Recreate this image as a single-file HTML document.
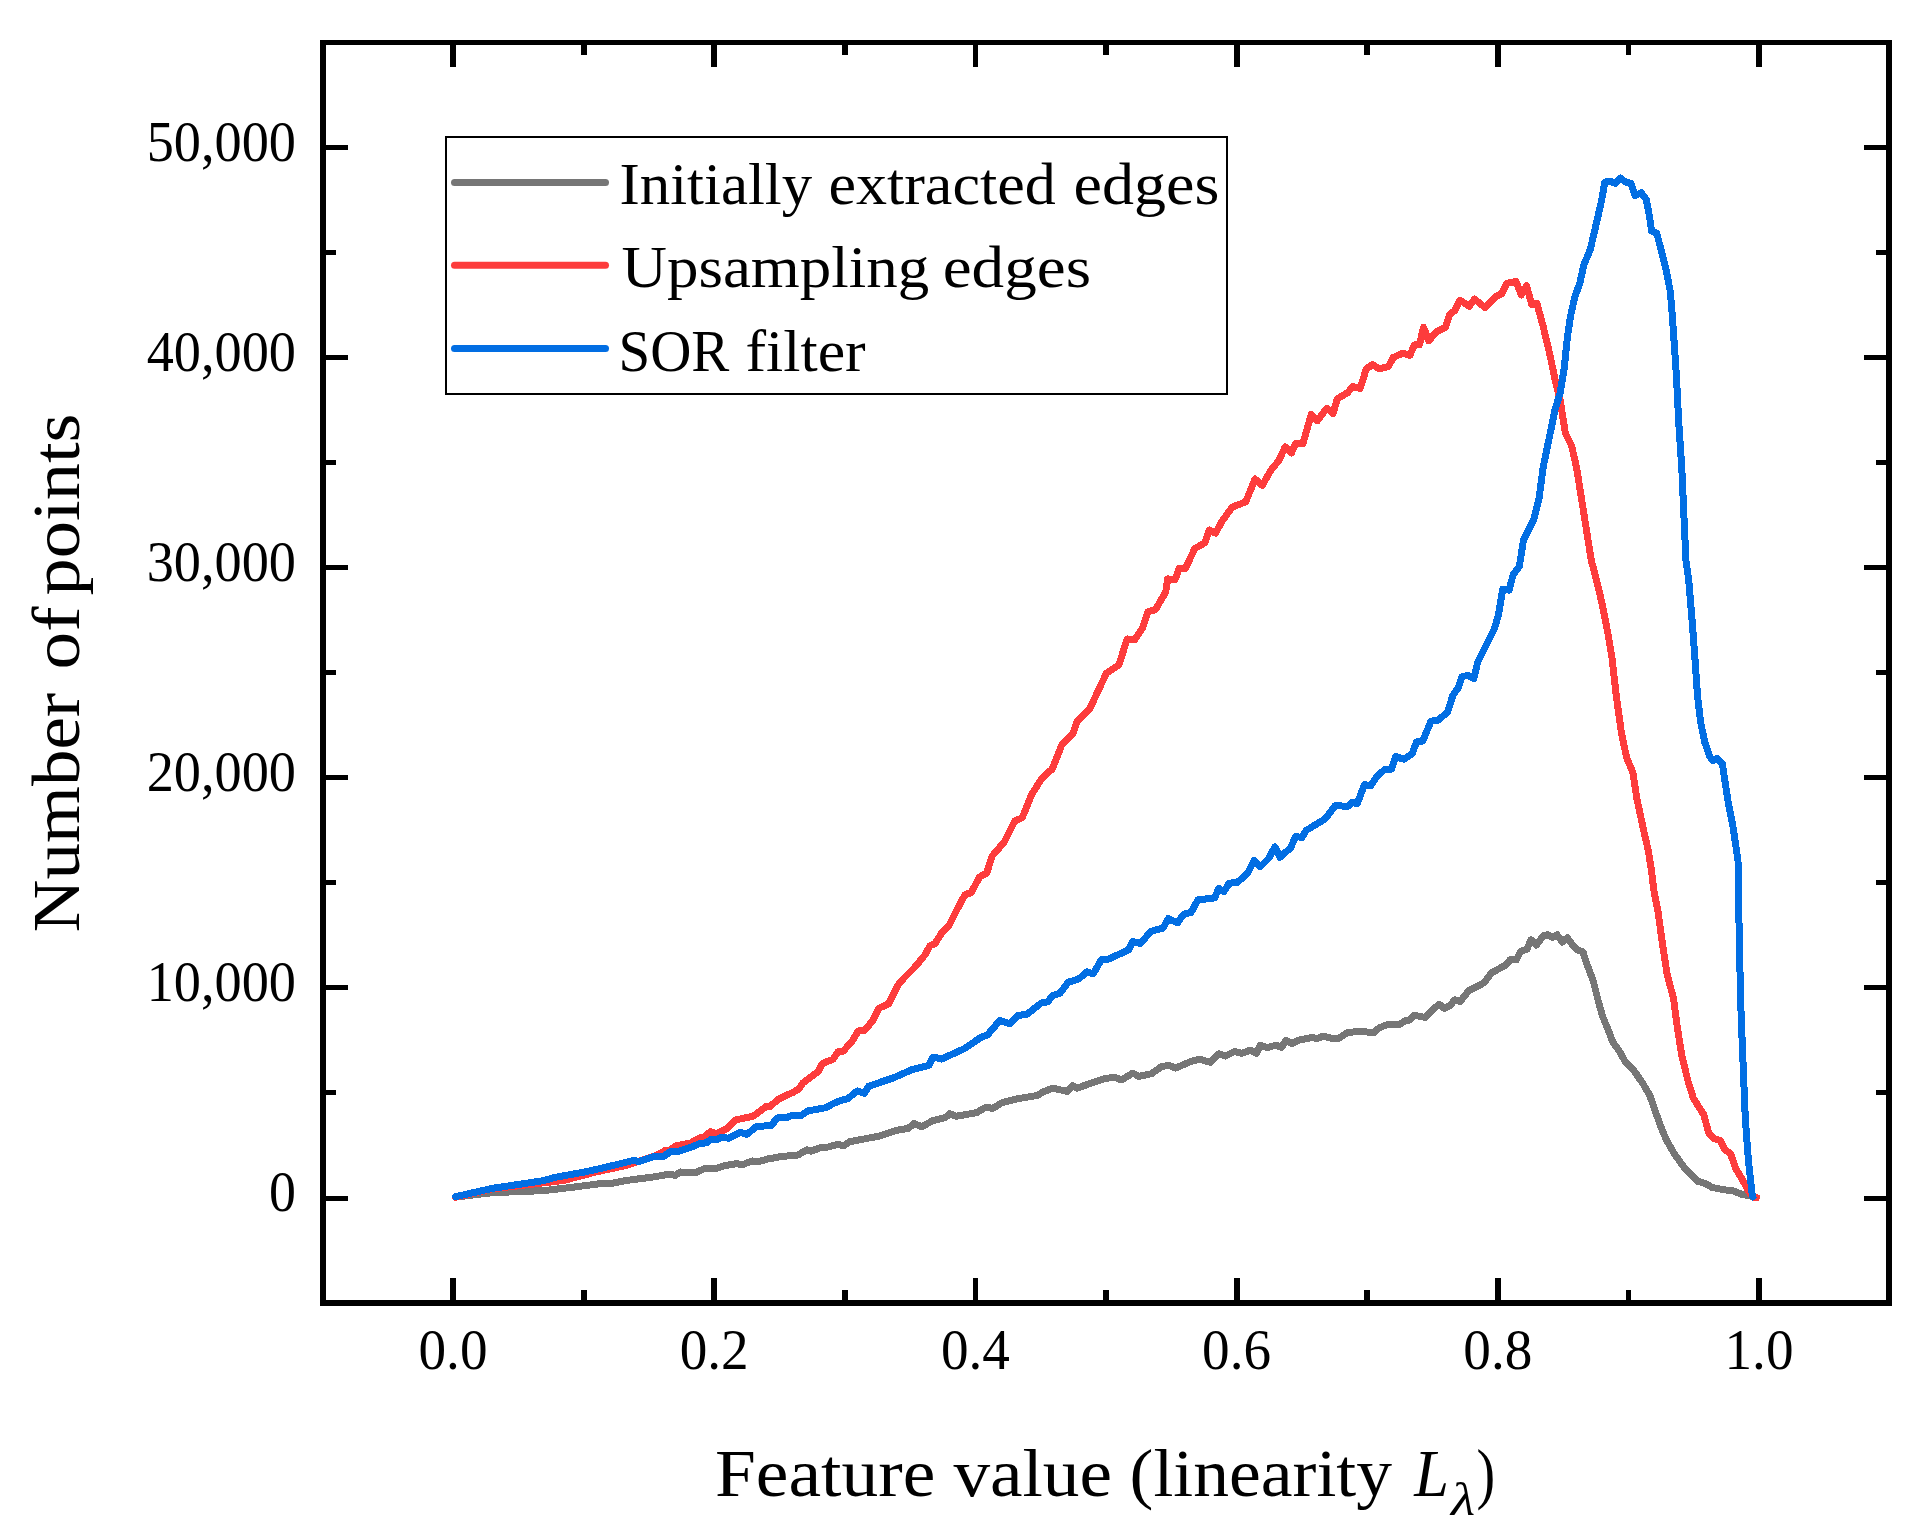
<!DOCTYPE html>
<html lang="en"><head><meta charset="utf-8"><title>Number of points vs feature value (linearity)</title>
<style>html,body{margin:0;padding:0;background:#fff}svg{display:block}text{font-family:"Liberation Serif",serif;fill:#000}</style>
</head><body>
<svg width="1931" height="1538" viewBox="0 0 1931 1538">
<rect x="0" y="0" width="1931" height="1538" fill="#fff"/>
<g fill="none" stroke-linejoin="round" stroke-linecap="round" stroke-width="7" shape-rendering="crispEdges">
<polyline stroke="#767676" points="455.6,1197.1 492.0,1192.7 544.0,1190.6 575.2,1186.9 600.0,1183.7 613.0,1183.1 626.0,1180.5 654.6,1176.8 668.9,1174.2 675.4,1175.3 680.6,1172.0 695.0,1172.9 704.1,1168.8 717.1,1168.1 723.6,1165.9 736.6,1163.6 741.8,1164.9 752.2,1161.0 757.4,1162.0 767.8,1159.0 782.1,1156.4 797.7,1155.1 806.8,1149.9 810.7,1151.2 819.8,1148.0 828.9,1146.9 838.0,1144.1 843.2,1146.0 849.9,1141.7 879.0,1136.1 895.7,1130.5 908.2,1128.4 914.0,1123.6 921.7,1126.7 933.1,1120.5 945.6,1117.4 949.8,1113.6 956.0,1116.3 976.8,1112.6 986.2,1107.0 992.4,1108.6 1001.8,1102.8 1018.4,1098.6 1037.1,1095.5 1043.4,1091.8 1052.7,1088.2 1067.3,1091.4 1072.5,1085.7 1076.7,1088.2 1103.7,1078.9 1114.1,1077.2 1121.4,1079.9 1132.8,1073.1 1139.0,1076.4 1151.5,1073.7 1161.9,1066.4 1169.2,1065.4 1175.5,1068.1 1180.0,1066.2 1190.9,1061.5 1199.5,1059.2 1210.4,1062.3 1219.0,1053.7 1225.3,1056.1 1234.6,1051.4 1241.7,1053.3 1250.2,1050.2 1256.5,1053.4 1260.4,1045.2 1267.4,1047.5 1276.0,1045.2 1281.5,1047.5 1286.1,1040.2 1291.6,1043.6 1298.6,1040.2 1312.7,1037.4 1316.6,1038.6 1323.6,1036.1 1332.2,1038.6 1339.2,1038.1 1347.8,1032.4 1361.1,1031.4 1373.5,1032.7 1379.0,1028.0 1388.4,1024.1 1398.5,1024.9 1404.8,1021.0 1409.5,1020.2 1414.1,1015.2 1425.1,1017.4 1431.3,1010.8 1439.1,1004.3 1444.6,1008.5 1450.0,1005.4 1454.7,999.9 1460.2,1001.5 1468.8,990.5 1479.7,985.1 1484.2,982.6 1491.5,972.8 1506.1,964.9 1510.2,959.7 1516.5,959.7 1520.6,951.4 1526.9,949.3 1531.0,939.9 1536.2,945.1 1543.5,935.8 1547.7,934.7 1552.9,937.4 1557.0,934.7 1562.2,942.0 1567.4,937.8 1572.6,945.1 1577.8,949.9 1583.0,952.0 1587.2,964.9 1593.4,981.5 1598.6,1002.3 1602.8,1016.9 1608.0,1029.4 1613.2,1042.9 1619.4,1051.2 1624.6,1060.6 1635.0,1072.0 1643.4,1084.5 1649.6,1094.9 1655.8,1112.6 1661.0,1127.1 1666.2,1139.6 1674.6,1154.2 1685.0,1168.7 1697.5,1181.2 1705.8,1183.7 1712.0,1187.4 1724.5,1189.9 1732.8,1190.6 1741.1,1194.1 1753.6,1196.8"/>
<polyline stroke="#fd3c3c" points="455.6,1197.2 492.0,1188.9 544.0,1182.8 564.8,1180.2 596.0,1171.9 626.0,1165.5 645.5,1159.0 657.2,1155.1 665.0,1150.6 668.9,1151.2 675.4,1146.0 691.0,1142.8 698.9,1138.2 704.1,1136.9 710.6,1131.7 715.8,1133.7 727.5,1128.4 735.3,1120.0 753.5,1116.1 766.5,1106.3 770.4,1106.3 778.2,1099.2 793.8,1092.0 799.0,1088.8 802.9,1082.9 818.5,1071.2 822.4,1063.4 832.8,1059.5 838.0,1051.7 843.2,1051.1 852.0,1041.4 858.2,1031.0 864.5,1030.6 872.8,1020.6 879.0,1008.2 888.4,1004.0 897.8,985.3 904.0,978.0 914.4,967.6 924.8,955.1 930.0,945.8 935.2,943.3 941.4,933.3 948.7,926.0 956.0,911.4 965.0,894.7 971.2,892.6 979.5,877.0 986.8,872.9 992.0,856.2 1004.5,841.7 1014.9,820.9 1022.2,817.8 1031.5,794.9 1041.9,778.2 1052.3,768.9 1061.7,745.0 1073.1,733.5 1077.3,721.0 1089.8,708.6 1106.4,673.2 1118.9,664.9 1127.2,638.9 1134.5,639.9 1142.8,627.4 1148.0,611.8 1155.3,609.8 1165.7,592.1 1167.7,578.9 1175.0,579.9 1179.1,568.5 1185.4,568.5 1194.7,548.7 1205.1,542.5 1209.3,530.0 1215.5,533.1 1221.8,521.7 1232.2,507.1 1245.7,501.9 1255.0,479.0 1262.3,485.3 1270.6,470.7 1279.0,460.3 1285.2,446.8 1291.4,453.0 1295.6,443.7 1302.9,443.7 1311.2,414.6 1317.4,420.8 1326.8,408.3 1333.0,413.5 1337.2,399.0 1347.6,392.7 1352.8,386.5 1360.1,388.6 1366.3,368.8 1372.6,364.6 1378.8,368.8 1388.2,366.7 1393.4,357.4 1402.7,353.2 1410.0,355.3 1414.2,344.9 1419.4,344.9 1423.5,327.2 1428.7,340.7 1437.0,331.4 1445.4,327.2 1449.5,314.7 1454.7,310.6 1459.9,300.2 1469.3,306.4 1474.5,299.1 1484.9,307.4 1495.3,297.0 1501.5,293.9 1506.7,283.5 1516.1,281.4 1521.3,295.0 1526.5,285.6 1531.7,304.3 1536.9,303.3 1543.1,326.2 1549.7,353.8 1554.9,378.8 1560.1,399.6 1565.3,432.9 1571.5,445.4 1576.7,468.3 1591.2,560.0 1596.5,580.0 1601.6,601.6 1607.8,632.8 1612.0,657.8 1616.2,695.2 1621.4,732.6 1626.6,757.6 1632.8,772.2 1637.0,799.2 1643.2,828.3 1648.4,851.2 1651.6,871.2 1653.8,890.0 1657.9,910.8 1663.1,948.2 1667.3,975.3 1673.5,998.2 1676.7,1023.1 1681.9,1056.4 1688.1,1081.4 1693.3,1098.0 1703.7,1114.6 1708.9,1133.4 1714.1,1138.6 1720.3,1140.6 1724.5,1149.0 1730.7,1154.2 1735.9,1168.7 1743.2,1181.2 1749.5,1192.6 1753.6,1197.2 1756.5,1197.5"/>
<polyline stroke="#026ee3" points="455.6,1196.7 492.0,1188.4 544.0,1180.6 554.4,1177.5 585.6,1171.8 606.4,1167.1 613.0,1165.5 633.8,1160.3 639.0,1161.6 654.6,1156.4 663.7,1156.2 670.2,1151.9 678.0,1151.6 691.0,1147.3 700.2,1143.4 706.7,1142.8 710.6,1139.5 717.1,1139.9 721.0,1137.3 728.8,1138.2 740.5,1132.4 747.0,1134.3 756.1,1126.9 771.7,1125.2 776.9,1118.0 787.3,1117.4 792.5,1115.2 801.6,1115.2 808.1,1110.9 826.3,1107.6 834.1,1103.1 841.9,1100.1 847.8,1098.6 857.2,1091.0 864.5,1093.4 868.6,1086.2 893.6,1077.8 912.3,1069.5 929.0,1065.4 933.1,1057.0 941.4,1059.1 964.3,1048.7 981.0,1037.3 987.2,1035.2 999.7,1020.6 1010.1,1023.8 1018.4,1015.4 1026.7,1014.4 1041.3,1003.0 1047.5,1001.9 1052.7,995.7 1060.0,993.2 1068.3,982.2 1078.7,979.0 1087.0,971.8 1093.3,973.8 1101.6,959.3 1107.9,959.3 1128.7,949.9 1132.8,941.6 1140.1,943.3 1151.5,931.2 1163.0,928.1 1168.2,918.7 1177.5,922.9 1183.8,914.1 1191.0,912.5 1197.9,899.9 1214.6,897.9 1218.7,888.5 1223.9,891.6 1229.1,883.3 1237.5,882.3 1247.9,872.9 1254.1,860.4 1260.3,866.7 1268.7,858.3 1274.9,846.9 1280.1,857.3 1290.5,847.9 1295.7,836.5 1301.9,837.5 1306.2,830.4 1325.0,819.0 1335.4,805.4 1347.8,806.5 1352.0,802.3 1357.2,803.8 1364.5,784.6 1370.7,785.7 1377.0,776.3 1385.3,769.0 1391.5,769.0 1395.7,756.6 1404.0,759.3 1412.3,753.4 1416.5,742.0 1422.7,741.0 1431.0,721.2 1438.3,720.2 1447.7,711.8 1452.9,695.2 1458.1,687.9 1462.2,676.5 1468.5,675.4 1473.7,678.6 1477.8,661.9 1487.2,643.2 1494.5,628.6 1498.6,614.1 1502.8,589.1 1509.0,590.2 1513.2,574.6 1519.4,566.2 1523.4,540.4 1533.8,519.6 1539.0,498.8 1543.1,467.6 1550.7,430.8 1554.9,410.0 1560.1,393.4 1564.2,368.4 1567.4,337.2 1570.5,316.4 1574.6,297.7 1579.8,283.1 1584.0,264.4 1590.2,249.8 1596.5,222.8 1601.7,199.9 1604.8,182.2 1610.0,181.2 1615.2,183.3 1620.4,178.1 1625.6,182.2 1630.8,183.3 1635.0,195.8 1641.2,192.6 1646.4,199.9 1649.5,216.6 1651.6,231.1 1656.8,233.2 1661.0,249.8 1666.2,270.6 1670.3,291.4 1672.4,316.4 1674.5,347.6 1676.6,378.8 1678.6,420.4 1681.8,468.3 1685.9,560.0 1688.7,580.0 1692.2,621.6 1695.3,663.2 1697.4,694.4 1700.5,721.4 1704.7,742.2 1709.9,756.8 1713.0,760.5 1717.2,758.5 1722.4,764.1 1724.4,777.6 1728.6,804.6 1732.8,825.4 1735.9,846.2 1738.0,860.8 1738.6,898.2 1739.5,952.4 1741.1,1014.8 1743.2,1066.8 1745.3,1118.8 1748.4,1160.4 1752.2,1194.7 1753.0,1197.0"/>
</g>
<path fill="#000" fill-rule="evenodd" shape-rendering="crispEdges" d="M320 40H1892V1306H320Z M326 45H1886V1300H326Z"/>
<g stroke="#000" stroke-width="5.8" shape-rendering="crispEdges">
<line x1="453.0" y1="1303.1" x2="453.0" y2="1278.0"/>
<line x1="453.0" y1="42.6" x2="453.0" y2="67.0"/>
<line x1="583.6" y1="1303.1" x2="583.6" y2="1290.0"/>
<line x1="583.6" y1="42.6" x2="583.6" y2="55.0"/>
<line x1="714.2" y1="1303.1" x2="714.2" y2="1278.0"/>
<line x1="714.2" y1="42.6" x2="714.2" y2="67.0"/>
<line x1="844.8" y1="1303.1" x2="844.8" y2="1290.0"/>
<line x1="844.8" y1="42.6" x2="844.8" y2="55.0"/>
<line x1="975.4" y1="1303.1" x2="975.4" y2="1278.0"/>
<line x1="975.4" y1="42.6" x2="975.4" y2="67.0"/>
<line x1="1106.0" y1="1303.1" x2="1106.0" y2="1290.0"/>
<line x1="1106.0" y1="42.6" x2="1106.0" y2="55.0"/>
<line x1="1236.6" y1="1303.1" x2="1236.6" y2="1278.0"/>
<line x1="1236.6" y1="42.6" x2="1236.6" y2="67.0"/>
<line x1="1367.2" y1="1303.1" x2="1367.2" y2="1290.0"/>
<line x1="1367.2" y1="42.6" x2="1367.2" y2="55.0"/>
<line x1="1497.8" y1="1303.1" x2="1497.8" y2="1278.0"/>
<line x1="1497.8" y1="42.6" x2="1497.8" y2="67.0"/>
<line x1="1628.4" y1="1303.1" x2="1628.4" y2="1290.0"/>
<line x1="1628.4" y1="42.6" x2="1628.4" y2="55.0"/>
<line x1="1759.0" y1="1303.1" x2="1759.0" y2="1278.0"/>
<line x1="1759.0" y1="42.6" x2="1759.0" y2="67.0"/>
<line x1="323.0" y1="1198.0" x2="348.0" y2="1198.0" stroke-width="5"/>
<line x1="1889.0" y1="1198.0" x2="1864.0" y2="1198.0" stroke-width="5"/>
<line x1="323.0" y1="1092.9" x2="336.0" y2="1092.9" stroke-width="5"/>
<line x1="1889.0" y1="1092.9" x2="1876.0" y2="1092.9" stroke-width="5"/>
<line x1="323.0" y1="987.9" x2="348.0" y2="987.9" stroke-width="5"/>
<line x1="1889.0" y1="987.9" x2="1864.0" y2="987.9" stroke-width="5"/>
<line x1="323.0" y1="882.8" x2="336.0" y2="882.8" stroke-width="5"/>
<line x1="1889.0" y1="882.8" x2="1876.0" y2="882.8" stroke-width="5"/>
<line x1="323.0" y1="777.7" x2="348.0" y2="777.7" stroke-width="5"/>
<line x1="1889.0" y1="777.7" x2="1864.0" y2="777.7" stroke-width="5"/>
<line x1="323.0" y1="672.6" x2="336.0" y2="672.6" stroke-width="5"/>
<line x1="1889.0" y1="672.6" x2="1876.0" y2="672.6" stroke-width="5"/>
<line x1="323.0" y1="567.6" x2="348.0" y2="567.6" stroke-width="5"/>
<line x1="1889.0" y1="567.6" x2="1864.0" y2="567.6" stroke-width="5"/>
<line x1="323.0" y1="462.5" x2="336.0" y2="462.5" stroke-width="5"/>
<line x1="1889.0" y1="462.5" x2="1876.0" y2="462.5" stroke-width="5"/>
<line x1="323.0" y1="357.4" x2="348.0" y2="357.4" stroke-width="5"/>
<line x1="1889.0" y1="357.4" x2="1864.0" y2="357.4" stroke-width="5"/>
<line x1="323.0" y1="252.4" x2="336.0" y2="252.4" stroke-width="5"/>
<line x1="1889.0" y1="252.4" x2="1876.0" y2="252.4" stroke-width="5"/>
<line x1="323.0" y1="147.3" x2="348.0" y2="147.3" stroke-width="5"/>
<line x1="1889.0" y1="147.3" x2="1864.0" y2="147.3" stroke-width="5"/>
</g>
<g font-size="56">
<text x="453.0" y="1368.8" text-anchor="middle" textLength="69" lengthAdjust="spacingAndGlyphs">0.0</text>
<text x="714.2" y="1368.8" text-anchor="middle" textLength="69" lengthAdjust="spacingAndGlyphs">0.2</text>
<text x="975.4" y="1368.8" text-anchor="middle" textLength="69" lengthAdjust="spacingAndGlyphs">0.4</text>
<text x="1236.6" y="1368.8" text-anchor="middle" textLength="69" lengthAdjust="spacingAndGlyphs">0.6</text>
<text x="1497.8" y="1368.8" text-anchor="middle" textLength="69" lengthAdjust="spacingAndGlyphs">0.8</text>
<text x="1759.0" y="1368.8" text-anchor="middle" textLength="69" lengthAdjust="spacingAndGlyphs">1.0</text>
<text x="295.9" y="1211.2" text-anchor="end" textLength="26.9" lengthAdjust="spacingAndGlyphs">0</text>
<text x="295.9" y="1001.1" text-anchor="end" textLength="149.2" lengthAdjust="spacingAndGlyphs">10,000</text>
<text x="295.9" y="790.9" text-anchor="end" textLength="149.2" lengthAdjust="spacingAndGlyphs">20,000</text>
<text x="295.9" y="580.8" text-anchor="end" textLength="149.2" lengthAdjust="spacingAndGlyphs">30,000</text>
<text x="295.9" y="370.6" text-anchor="end" textLength="149.2" lengthAdjust="spacingAndGlyphs">40,000</text>
<text x="295.9" y="160.5" text-anchor="end" textLength="149.2" lengthAdjust="spacingAndGlyphs">50,000</text>
</g>
<rect x="446" y="137" width="781" height="256.8" fill="#fff" stroke="#000" stroke-width="2" shape-rendering="crispEdges"/>
<g fill="none" stroke-linecap="round" stroke-width="7">
<line x1="454.5" y1="182.4" x2="605.5" y2="182.4" stroke="#767676"/>
<line x1="454.5" y1="265.3" x2="605.5" y2="265.3" stroke="#fd3c3c"/>
<line x1="454.5" y1="348.6" x2="605.5" y2="348.6" stroke="#026ee3"/>
</g>
<g>
<text x="619.5" y="203.6" font-size="59" textLength="192.6" lengthAdjust="spacingAndGlyphs">Initially</text>
<text x="828.4" y="203.6" font-size="59" textLength="227.4" lengthAdjust="spacingAndGlyphs">extracted</text>
<text x="1073.6" y="203.6" font-size="59" textLength="145.7" lengthAdjust="spacingAndGlyphs">edges</text>
<text x="621.5" y="287.4" font-size="59" textLength="307.6" lengthAdjust="spacingAndGlyphs">Upsampling</text>
<text x="942.7" y="287.4" font-size="59" textLength="148.3" lengthAdjust="spacingAndGlyphs">edges</text>
<text x="618.5" y="371.3" font-size="59" textLength="110.9" lengthAdjust="spacingAndGlyphs">SOR</text>
<text x="745.5" y="371.3" font-size="59" textLength="120.2" lengthAdjust="spacingAndGlyphs">filter</text>
</g>
<g>
<text x="715.0" y="1496.3" font-size="68" textLength="220.3" lengthAdjust="spacingAndGlyphs">Feature</text>
<text x="953.4" y="1496.3" font-size="68" textLength="158.6" lengthAdjust="spacingAndGlyphs">value</text>
<text x="1129.6" y="1496.3" font-size="68" textLength="262.4" lengthAdjust="spacingAndGlyphs">(linearity</text>
<text x="1414.2" y="1496.3" font-size="68" textLength="34.7" lengthAdjust="spacingAndGlyphs" font-style="italic">L</text>
<text x="1451.1" y="1514.6" font-size="46" textLength="24.1" lengthAdjust="spacingAndGlyphs" font-style="italic">λ</text>
<text x="1476.4" y="1496.3" font-size="68" textLength="18.7" lengthAdjust="spacingAndGlyphs">)</text>
</g>
<g transform="translate(79,930.2) rotate(-90)">
<text x="-2.0" y="0" font-size="68" textLength="239.4" lengthAdjust="spacingAndGlyphs">Number</text>
<text x="260.8" y="0" font-size="68" textLength="62.9" lengthAdjust="spacingAndGlyphs">of</text>
<text x="334.7" y="0" font-size="68" textLength="182.1" lengthAdjust="spacingAndGlyphs">points</text>
</g>
</svg>
</body></html>
